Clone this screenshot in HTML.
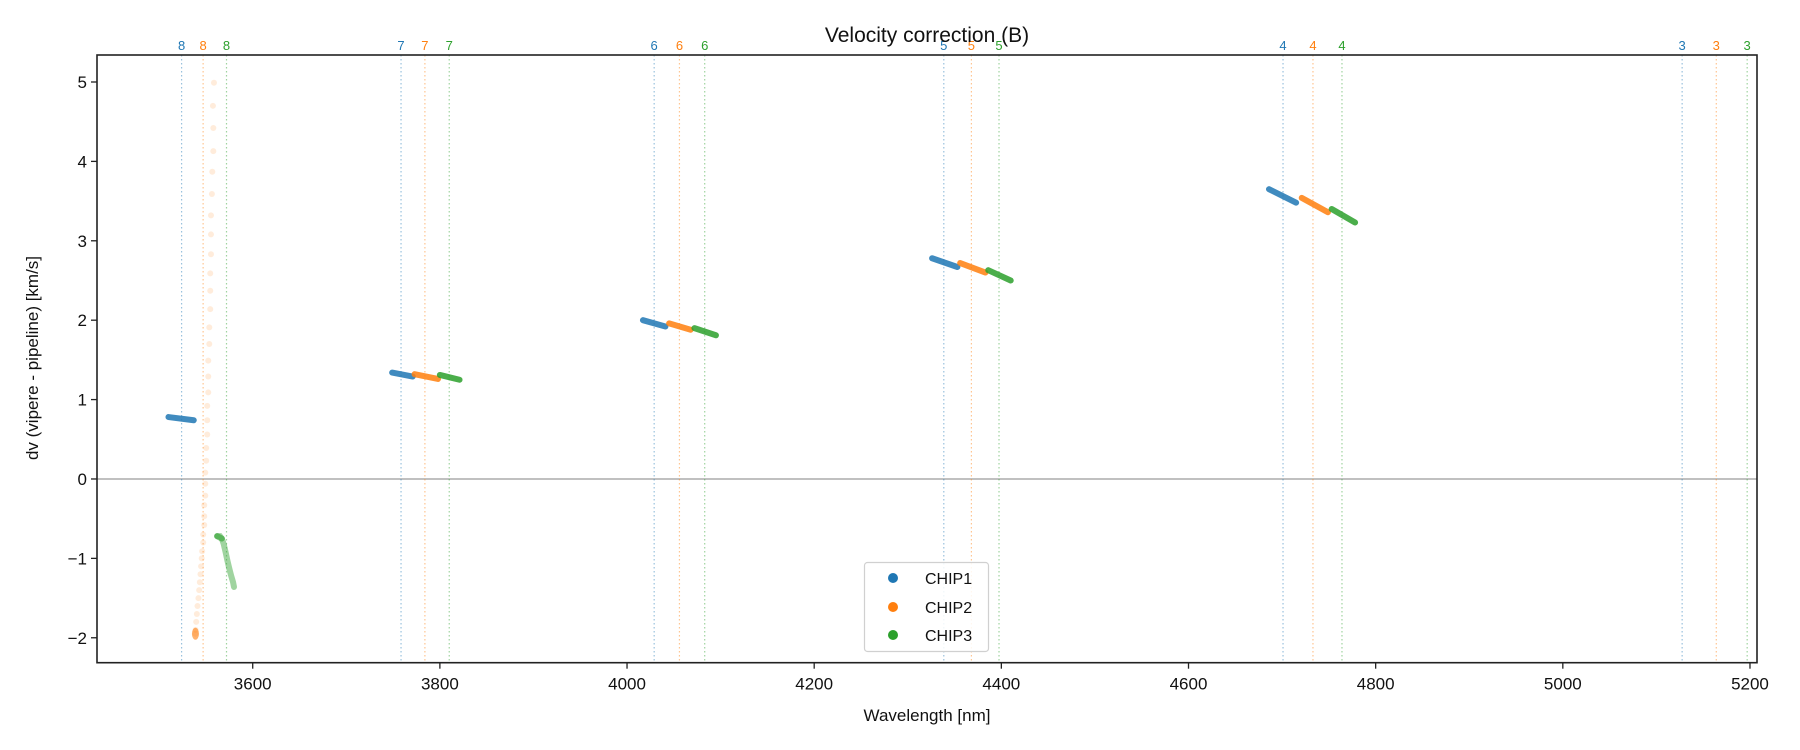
<!DOCTYPE html>
<html><head><meta charset="utf-8"><style>
html,body{margin:0;padding:0;background:#fff;}
svg{display:block;font-family:"Liberation Sans","DejaVu Sans",sans-serif;}
</style></head><body>
<svg id="chart" width="1800" height="750" viewBox="0 0 1800 750">
<rect width="1800" height="750" fill="#fff"/>
<g id="plot"></g>
</svg>
<script>
const xTicks=[3600,3800,4000,4200,4400,4600,4800,5000,5200];
const yTicks=[-2,-1,0,1,2,3,4,5];
const orderLabels=["8","7","6","5","4","3"];
const orderChip1=[3524,3758.5,4029,4338.5,4701,5127.5];
const orderChip2=[3547,3784,4056,4368,4733,5164];
const orderChip3=[3572,3810,4083,4397.5,4764,5197];
// segments: [wl_start, wl_end, dv_start, dv_end]
const segChip1=[[3510,3537,0.78,0.74],[3749,3771,1.34,1.29],[4017,4041,2.0,1.92],[4326,4353,2.78,2.67],[4686,4715,3.65,3.48]];
const segChip2=[[3773,3798,1.32,1.26],[4045,4068,1.96,1.88],[4356,4383,2.72,2.60],[4721,4749,3.54,3.36]];
const segChip3=[[3800,3821,1.31,1.25],[4072,4095,1.90,1.81],[4386,4410,2.63,2.50],[4753,4778,3.40,3.23]];
const faintWl=[3558.6,3557.5,3557.9,3557.9,3556.8,3556.4,3555.4,3555.4,3555.4,3554.6,3554.6,3554.6,3553.6,3553.6,3552.5,3552.5,3552.5,3551.4,3551.4,3551.4,3550.3,3550.3,3549.3,3549.3,3549.3,3548.2,3548.2,3548.2,3547.1,3547.1,3546,3545.5,3544.8,3544.2,3543.5,3542.8,3542,3541,3540.3,3539.6,3539,3538.8];
const faintDv=[4.99,4.70,4.42,4.13,3.87,3.59,3.32,3.08,2.83,2.59,2.37,2.14,1.91,1.70,1.49,1.29,1.09,0.92,0.74,0.56,0.39,0.23,0.08,-0.06,-0.21,-0.33,-0.47,-0.58,-0.70,-0.80,-0.91,-1.0,-1.1,-1.2,-1.3,-1.4,-1.5,-1.6,-1.7,-1.8,-1.9,-1.95];
const curveWl=[3562,3565,3567,3569,3571,3573,3575,3577,3579,3580];
const curveDv=[-0.72,-0.72,-0.75,-0.82,-0.92,-1.03,-1.13,-1.22,-1.30,-1.36];

const L=97,R=1757,T=55,B=662.7;
const X0=3433.6,X1=5207.5,Y0=-2.314,Y1=5.34;
const sx=v=>L+(v-X0)/(X1-X0)*(R-L);
const sy=v=>B-(v-Y0)/(Y1-Y0)*(B-T);
const C1="#1f77b4",C2="#ff7f0e",C3="#2ca02c";
const NS="http://www.w3.org/2000/svg";
const g=document.getElementById('plot');
function mk(tag,attrs,parent){const e=document.createElementNS(NS,tag);for(const k in attrs)e.setAttribute(k,attrs[k]);(parent||g).appendChild(e);return e;}

// zero line
let zl=mk('line',{x1:L,x2:R,y1:sy(0),y2:sy(0),stroke:'#808080','stroke-width':1});



// order lines + labels
[[orderChip1,C1,'chip1'],[orderChip2,C2,'chip2'],[orderChip3,C3,'chip3']].forEach(([arr,c,n])=>{
  arr.forEach((w,i)=>{
    const ln=mk('line',{x1:sx(w),x2:sx(w),y1:T,y2:B,stroke:c,'stroke-width':1.2,'stroke-dasharray':'1.5,2.5',opacity:0.45});
    
    
    const t=mk('text',{x:sx(w),y:T-5,fill:c,'font-size':13,'text-anchor':'middle'});
    t.textContent=orderLabels[i];
    
    
  });
});

// faint chip2 dots
faintWl.forEach((w,i)=>{
  const c=mk('circle',{cx:sx(w),cy:sy(faintDv[i]),r:3,fill:C2,opacity:0.15});
  
  
});
const blob=mk('ellipse',{cx:sx(3538.8),cy:sy(-1.95),rx:3.5,ry:6,fill:C2,opacity:0.6});



// chip3 curve
let d='';
curveWl.forEach((w,i)=>{d+=(i?'L':'M')+sx(w)+','+sy(curveDv[i]);});
const cv=mk('path',{d:d,stroke:C3,'stroke-width':6,fill:'none','stroke-linecap':'round',opacity:0.45});


const cvs=mk('path',{d:'M'+sx(curveWl[0])+','+sy(curveDv[0])+'L'+sx(curveWl[2])+','+sy(curveDv[2]),stroke:C3,'stroke-width':6,fill:'none','stroke-linecap':'round',opacity:0.6});



// segments
[[segChip1,C1,'chip1'],[segChip2,C2,'chip2'],[segChip3,C3,'chip3']].forEach(([arr,c,n])=>{
  arr.forEach((s,i)=>{
    const ln=mk('line',{x1:sx(s[0]),x2:sx(s[1]),y1:sy(s[2]),y2:sy(s[3]),stroke:c,'stroke-width':6,'stroke-linecap':'round',opacity:0.85});
    
    
  });
});

// axes frame
const fr=mk('rect',{x:L,y:T,width:R-L,height:B-T,fill:'none',stroke:'#222','stroke-width':1.6});



xTicks.forEach(v=>{
  const tk=mk('line',{x1:sx(v),x2:sx(v),y1:B,y2:B+6,stroke:'#222','stroke-width':1.3});
  
  
  const t=mk('text',{x:sx(v),y:B+27,'font-size':17,'text-anchor':'middle',fill:'#111'});
  t.textContent=v;
  
  
});
yTicks.forEach(v=>{
  const tk=mk('line',{x1:L-6,x2:L,y1:sy(v),y2:sy(v),stroke:'#222','stroke-width':1.3});
  
  
  const t=mk('text',{x:L-10,y:sy(v)+6,'font-size':17,'text-anchor':'end',fill:'#111'});
  t.textContent=v<0?'\u2212'+Math.abs(v):String(v);
  
  
});
</script>
<svg style="position:absolute;left:0;top:0" width="1800" height="750">
<text x="927" y="42" font-size="21" text-anchor="middle" fill="#111" font-family="Liberation Sans, sans-serif">Velocity correction (B)</text>
<text x="927" y="721" font-size="17" text-anchor="middle" fill="#111" font-family="Liberation Sans, sans-serif">Wavelength [nm]</text>
<text transform="translate(38,358) rotate(-90)" font-size="17" text-anchor="middle" fill="#111" font-family="Liberation Sans, sans-serif">dv (vipere - pipeline) [km/s]</text>
<g>
<rect x="864.5" y="562.5" width="124" height="89" rx="3" fill="#fff" fill-opacity="0.85" stroke="#d0d0d0" stroke-width="1.2"/>
<circle cx="893" cy="578" r="5" fill="#1f77b4"/>
<text x="925" y="584" font-size="16" fill="#111" font-family="Liberation Sans, sans-serif">CHIP1</text>
<circle cx="893" cy="607" r="5" fill="#ff7f0e"/>
<text x="925" y="613" font-size="16" fill="#111" font-family="Liberation Sans, sans-serif">CHIP2</text>
<circle cx="893" cy="635" r="5" fill="#2ca02c"/>
<text x="925" y="641" font-size="16" fill="#111" font-family="Liberation Sans, sans-serif">CHIP3</text>
</g>
</svg>
</body></html>
